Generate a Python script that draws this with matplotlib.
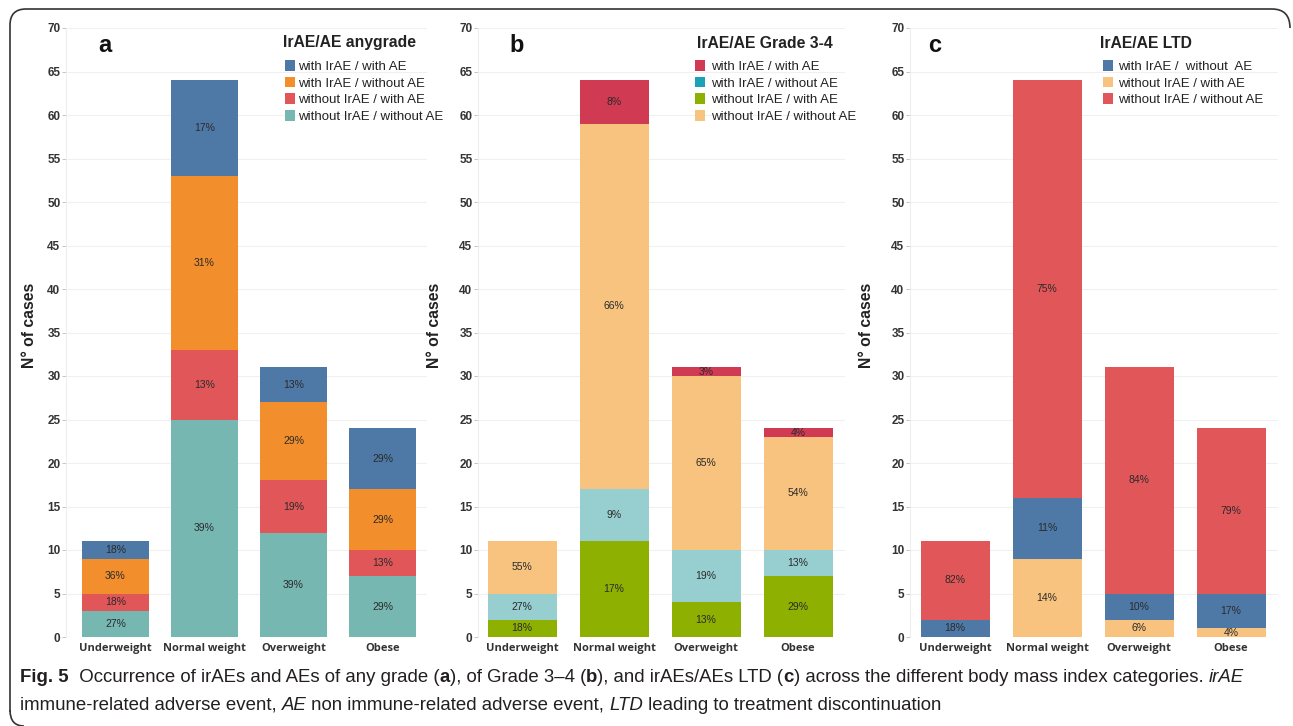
import matplotlib
matplotlib.use("Agg")
import matplotlib.pyplot as plt
from matplotlib.patches import Patch
from matplotlib.path import Path
from matplotlib.patches import PathPatch
from matplotlib import font_manager

W, H = 1293, 726
names = {f.name for f in font_manager.fontManager.ttflist}
AX_FONT = "Liberation Sans" if "Liberation Sans" in names else "DejaVu Sans"
TICK_FONT = "Open Sans" if "Open Sans" in names else AX_FONT
CAP_FONT = "Liberation Sans Narrow" if "Liberation Sans Narrow" in names else AX_FONT
plt.rcParams["font.family"] = [AX_FONT, "DejaVu Sans"]

categories = ["Underweight", "Normal weight", "Overweight", "Obese"]

# Panel a: IrAE/AE anygrade (stack order bottom -> top)
a_labels = ["without IrAE / without AE", "without IrAE / with AE", "with IrAE / without AE", "with IrAE / with AE"]
a_values = [[3, 25, 12, 7], [2, 8, 6, 3], [4, 20, 9, 7], [2, 11, 4, 7]]
a_pcts = [["27%", "39%", "39%", "29%"], ["18%", "13%", "19%", "13%"],
          ["36%", "31%", "29%", "29%"], ["18%", "17%", "13%", "29%"]]
a_colors = ["#76B7B2", "#E15759", "#F28E2B", "#4E79A7"]
a_legend_colors = a_colors

# Panel b: IrAE/AE Grade 3-4
b_labels = ["without IrAE / with AE", "with IrAE / without AE", "without IrAE / without AE", "with IrAE / with AE"]
b_values = [[2, 11, 4, 7], [3, 6, 6, 3], [6, 42, 20, 13], [0, 5, 1, 1]]
b_pcts = [["18%", "17%", "13%", "29%"], ["27%", "9%", "19%", "13%"],
          ["55%", "66%", "65%", "54%"], ["", "8%", "3%", "4%"]]
b_colors = ["#8EB000", "#97CED0", "#F7C37F", "#D13A53"]
b_legend_colors = ["#8EB000", "#1AA3B8", "#F7C37F", "#D13A53"]
b_legend_order = [3, 1, 0, 2]

# Panel c: IrAE/AE LTD
c_labels = ["without IrAE / with AE", "with IrAE /  without  AE", "without IrAE / without AE"]
c_values = [[0, 9, 2, 1], [2, 7, 3, 4], [9, 48, 26, 19]]
c_pcts = [["", "14%", "6%", "4%"], ["18%", "11%", "10%", "17%"], ["82%", "75%", "84%", "79%"]]
c_colors = ["#F7C37F", "#4E79A7", "#E15759"]
c_legend_order = [1, 0, 2]

yticks = [0, 5, 10, 15, 20, 25, 30, 35, 40, 45, 50, 55, 60, 65, 70]

fig = plt.figure(figsize=(W / 100, H / 100), dpi=100)

def px(x, y):
    return x / W, 1 - y / H

panels = [
    dict(box=(66, 427), xlim=(-0.556, 3.5), vals=a_values, pcts=a_pcts, cols=a_colors,
         labels=a_labels, lcols=a_legend_colors, order=[3, 2, 1, 0], letter="a", lx=105,
         title="IrAE/AE anygrade", tx=283, hx=277, ylx=37, pad=0.2),
    dict(box=(478, 845), xlim=(-0.48, 3.51), vals=b_values, pcts=b_pcts, cols=b_colors,
         labels=b_labels, lcols=b_legend_colors, order=b_legend_order, letter="b", lx=517,
         title="IrAE/AE Grade 3-4", tx=697, hx=687, ylx=442, pad=0.45),
    dict(box=(910, 1278), xlim=(-0.49, 3.51), vals=c_values, pcts=c_pcts, cols=c_colors,
         labels=c_labels, lcols=c_colors, order=c_legend_order, letter="c", lx=935,
         title="IrAE/AE LTD", tx=1100, hx=1095, ylx=874, pad=0.35),
]

top_px, bot_px = 28, 637
for p in panels:
    l, r = p["box"]
    ax = fig.add_axes([l / W, 1 - bot_px / H, (r - l) / W, (bot_px - top_px) / H])
    x = list(range(len(categories)))
    bottom = [0] * len(categories)
    for vals, pc, col in zip(p["vals"], p["pcts"], p["cols"]):
        ax.bar(x, vals, width=0.75, bottom=bottom, color=col, edgecolor="none", zorder=2)
        for i, (v, t) in enumerate(zip(vals, pc)):
            if t:
                ax.text(i, bottom[i] + v / 2, t, ha="center", va="center", fontsize=7.5,
                        color="#2a2a2a", zorder=3)
        bottom = [b + v for b, v in zip(bottom, vals)]
    ax.set_xlim(*p["xlim"])
    ax.set_ylim(0, 70)
    ax.set_yticks(yticks)
    ax.set_yticklabels([str(t) for t in yticks], fontsize=8.5, fontweight="bold", color="#333333")
    ax.set_xticks(x)
    ax.set_xticklabels(categories, fontsize=8, fontweight="bold", color="#333333",
                       family=[TICK_FONT, "DejaVu Sans"])
    ax.tick_params(axis="x", length=0, pad=4)
    ax.tick_params(axis="y", length=3, width=0.6, color="#bbbbbb", pad=1)
    ax.grid(axis="y", color="#f0f0f0", linewidth=0.8, zorder=0)
    for s in ["top", "right", "bottom"]:
        ax.spines[s].set_visible(False)
    ax.spines["left"].set_color("#eeeeee")
    ax.set_axisbelow(True)
    ax.set_ylabel("N° of cases", fontsize=11.3, fontweight="bold", color="#222222")
    ax.yaxis.set_label_coords((p["ylx"] - l) / (r - l), 0.512)
    fig.text(*px(p["lx"], 46), p["letter"], fontsize=17, fontweight="bold",
             ha="center", va="center", color="#111111")
    fig.text(*px(p["tx"], 43), p["title"], fontsize=11.3, fontweight="bold",
             ha="left", va="center", color="#222222")
    handles = [Patch(facecolor=p["lcols"][k], edgecolor="none") for k in p["order"]]
    labs = [p["labels"][k] for k in p["order"]]
    fig.legend(handles, labs, loc="upper left", bbox_to_anchor=px(p["hx"], 52),
               frameon=False, fontsize=9.5, handlelength=0.8, handleheight=0.9,
               handletextpad=p["pad"], labelspacing=0.27, borderpad=0.1,
               labelcolor="#222222")

# frame border (pixel coordinates)
verts = [(10, 712), (10, 25), (10, 9), (26, 9), (1272, 9), (1290, 9), (1290, 28)]
codes = [Path.MOVETO, Path.LINETO, Path.CURVE3, Path.CURVE3, Path.LINETO, Path.CURVE3, Path.CURVE3]
fig.add_artist(PathPatch(Path([px(*v) for v in verts], codes), transform=fig.transFigure,
                         fill=False, edgecolor="#333333", linewidth=1.2))
verts2 = [(10, 710), (10, 726), (24, 726)]
fig.add_artist(PathPatch(Path([px(*v) for v in verts2], [Path.MOVETO, Path.CURVE3, Path.CURVE3]),
                         transform=fig.transFigure, fill=False, edgecolor="#333333", linewidth=1.2))

# caption
line1 = [("Fig. 5", "bold", "normal"),
         ("  Occurrence of irAEs and AEs of any grade (", "normal", "normal"),
         ("a", "bold", "normal"), ("), of Grade 3–4 (", "normal", "normal"),
         ("b", "bold", "normal"), ("), and irAEs/AEs LTD (", "normal", "normal"),
         ("c", "bold", "normal"),
         (") across the different body mass index categories. ", "normal", "normal"),
         ("irAE", "normal", "italic")]
line2 = [("immune-related adverse event, ", "normal", "normal"), ("AE", "normal", "italic"),
         (" non immune-related adverse event, ", "normal", "normal"), ("LTD", "normal", "italic"),
         (" leading to treatment discontinuation", "normal", "normal")]

fig.canvas.draw()
renderer = fig.canvas.get_renderer()

def draw_line(line, ypix, size):
    xcur = 20
    arts = []
    for txt, wt, st in line:
        t = fig.text(xcur / W, 1 - ypix / H, txt, fontsize=size, fontweight=wt, fontstyle=st,
                     fontstretch="condensed", family=[CAP_FONT, "DejaVu Sans"],
                     color="#231F20", ha="left", va="center")
        bb = t.get_window_extent(renderer)
        xcur += bb.width
        arts.append(t)
    return arts, xcur - 20

arts, wid = draw_line(line1, 677, 13)
for a_ in arts:
    a_.remove()
size = min(15.5, 13 * 1228 / wid)
draw_line(line1, 677, size)
draw_line(line2, 705, size)

fig.savefig("out.png", dpi=100)
